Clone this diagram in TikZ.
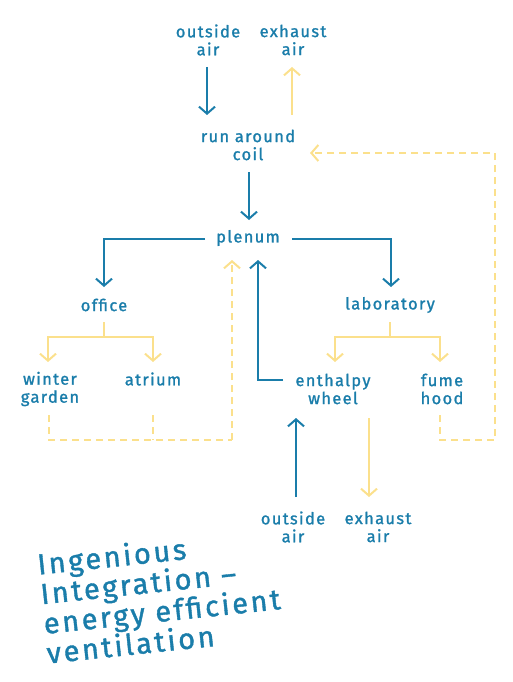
\documentclass[tikz,border=0pt]{standalone}
\usepackage{fontspec}
\setmainfont{Fira Sans}[LetterSpace=8,FakeBold=1.3]
\newfontfamily\titlefont{Fira Sans}[LetterSpace=9,FakeBold=1.3]
\usetikzlibrary{arrows.meta}
\definecolor{cblue}{HTML}{1A7DAA}
\definecolor{cyel}{HTML}{FBE08C}
\tikzset{
  lbl/.style={text=cblue, font=\fontsize{16.5}{18}\selectfont, align=center, inner sep=1pt},
  ttl/.style={text=cblue, font=\titlefont\fontsize{29}{28}\selectfont, align=left, anchor=north west, rotate=6, inner sep=0pt},
  bl/.style={draw=cblue, line width=2pt},
  yl/.style={draw=cyel, line width=2pt},
  yd/.style={draw=cyel, line width=2pt, dash pattern=on 7pt off 5pt},
  tip/.style={-{Straight Barb[length=7pt,width=16pt,line width=2pt]}},
}
\begin{document}
\begin{tikzpicture}[x=1pt,y=-1pt]
\useasboundingbox (0,0) rectangle (512,682);
% nodes
\node[lbl] (oa1) at (208,40) {outside\\air};
\node[lbl] (ea1) at (293,40) {exhaust\\air};
\node[lbl] (rac) at (248,145) {run around\\coil};
\node[lbl] (plen) at (248,238) {plenum};
\node[lbl] (off) at (104,305) {office};
\node[lbl] (lab) at (390,305) {laboratory};
\node[lbl] (wg) at (50,389) {winter\\garden};
\node[lbl] (atr) at (153,379) {atrium};
\node[lbl] (ent) at (333,389) {enthalpy\\wheel};
\node[lbl] (fh) at (442,389) {fume\\hood};
\node[lbl] (oa2) at (293,527) {outside\\air};
\node[lbl] (ea2) at (378,527) {exhaust\\air};
% coordinates
\coordinate (pl) at (205,239);
\coordinate (pr) at (292,239);
\coordinate (ctop) at (249,172);
\coordinate (cbot) at (249,220);
% top arrows
\draw[bl,tip] (207,67) -- (207,115);
\draw[yl,tip] (292,115) -- (292,67);
\draw[bl,tip] (ctop) -- (cbot);
% plenum branches
\draw[bl,tip] (pl) -- (104,239) -- (104,287);
\draw[bl,tip] (pr) -- (391,239) -- (391,287);
% office branch
\coordinate (ob) at (104,337);
\draw[yl] (104,322) -- (ob);
\draw[yl,tip] (ob) -- (48,337) -- (48,362);
\draw[yl,tip] (ob) -- (153,337) -- (153,362);
% lab branch
\coordinate (lb) at (390,337);
\draw[yl] (390,322) -- (lb);
\draw[yl,tip] (lb) -- (335,337) -- (335,362);
\draw[yl,tip] (lb) -- (440,337) -- (440,362);
% enthalpy to plenum
\draw[bl,tip] (283,380) -- (258,380) -- (258,260);
% enthalpy bottom
\draw[bl,tip] (296,497) -- (296,418);
\draw[yl,tip] (369,418) -- (369,497);
% dashed returns
\draw[yd] (49,415) -- (49,440) -- (232,440);
\draw[yd] (153,415) -- (153,440);
\draw[yd,tip] (232,440) -- (232,260);
\draw[yd,tip] (440,415) -- (440,440) -- (495,440) -- (495,153) -- (310,153);
% title
\node[ttl] (title) at (36,552) {Ingenious\\Integration –\\energy efficient\\ventilation};
\end{tikzpicture}
\end{document}
